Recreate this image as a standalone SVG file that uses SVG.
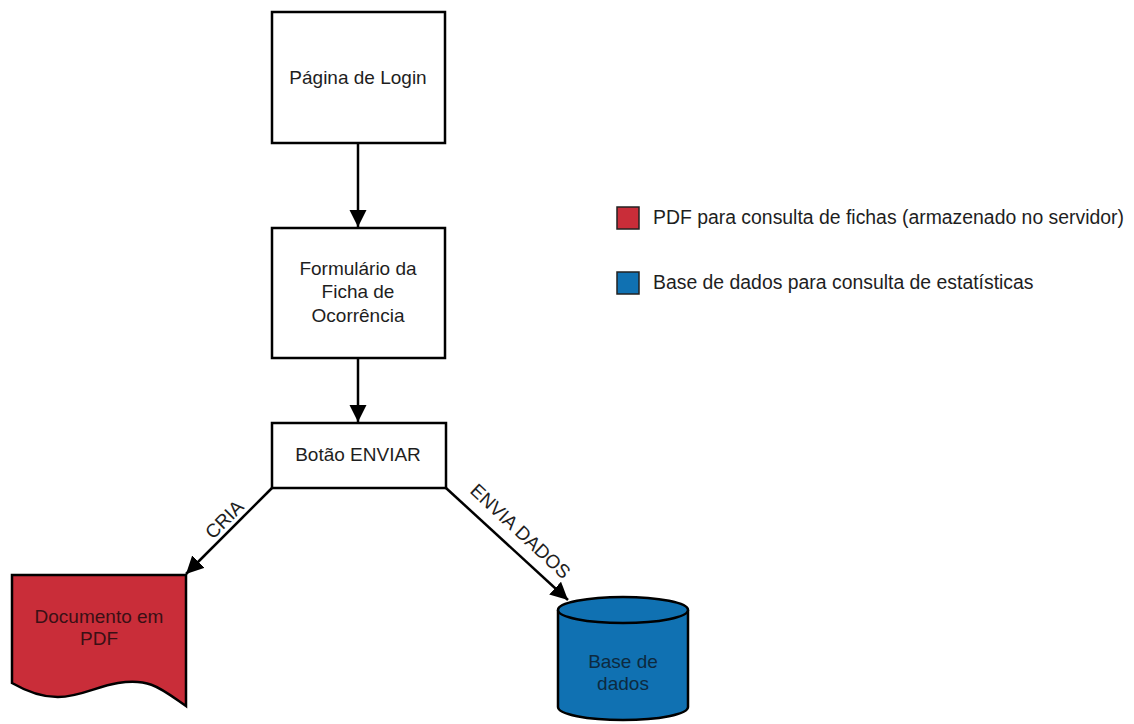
<svg xmlns="http://www.w3.org/2000/svg" width="1134" height="724" viewBox="0 0 1134 724">
<defs>
<style>
.box{fill:#fff;stroke:#000;stroke-width:2.5}
.t{font-family:"Liberation Sans",Arial,sans-serif;font-size:19px;fill:#1e1e1e;text-anchor:middle}
.lg{font-family:"Liberation Sans",Arial,sans-serif;font-size:19.4px;fill:#1e1e1e}
.edge{fill:none;stroke:#000;stroke-width:2.5}
</style>
<marker id="ah" viewBox="0 0 10 10" refX="10" refY="5" markerWidth="7" markerHeight="7" orient="auto" markerUnits="strokeWidth"><path d="M0,0 L10,5 L0,10 z" fill="#000"/></marker>
</defs>
<rect width="1134" height="724" fill="#fff"/>
<g id="connectors">
<line class="edge" x1="358" y1="143" x2="358" y2="227" marker-end="url(#ah)"/>
<line class="edge" x1="358" y1="358" x2="358" y2="422" marker-end="url(#ah)"/>
<line class="edge" x1="272" y1="488" x2="186" y2="574" marker-end="url(#ah)"/>
<line class="edge" x1="446" y1="488" x2="568" y2="600" marker-end="url(#ah)"/>
<text class="t" transform="translate(229,524) rotate(-45)">CRIA</text>
<text class="t" transform="translate(516,536) rotate(43)">ENVIA DADOS</text>
</g>
<g id="login">
<rect class="box" x="272" y="12" width="173" height="131"/>
<text class="t" x="358" y="84">Página de Login</text>
</g>
<g id="formulario">
<rect class="box" x="272" y="228" width="173" height="130"/>
<text class="t" x="358" y="275">Formulário da</text>
<text class="t" x="358" y="298">Ficha de</text>
<text class="t" x="358" y="322">Ocorrência</text>
</g>
<g id="botao">
<rect class="box" x="272" y="423" width="174" height="65"/>
<text class="t" x="358" y="461">Botão ENVIAR</text>
</g>
<g id="documento">
<path d="M12,575 L186,575 L186,706 C160,688 150,678 118,683 C85,688 62,712 12,683 Z" fill="#C92D39" stroke="#000" stroke-width="2.5"/>
<text class="t" x="99" y="623" style="fill:#3a1015">Documento em</text>
<text class="t" x="99" y="645" style="fill:#3a1015">PDF</text>
</g>
<g id="basedados">
<path d="M558,610 L558,707 A65,13 0 0 0 688,707 L688,610" fill="#1071B2" stroke="#000" stroke-width="2.5"/>
<ellipse cx="623" cy="610" rx="65" ry="13" fill="#1071B2" stroke="#000" stroke-width="2.5"/>
<text class="t" x="623" y="668" style="fill:#0d2a40">Base de</text>
<text class="t" x="623" y="690" style="fill:#0d2a40">dados</text>
</g>
<g id="legend">
<rect x="617" y="207" width="22" height="22" fill="#C92D39" stroke="#222" stroke-width="1.5"/>
<text class="lg" x="653" y="224">PDF para consulta de fichas (armazenado no servidor)</text>
<rect x="617" y="272" width="22" height="22" fill="#1071B2" stroke="#222" stroke-width="1.5"/>
<text class="lg" x="653" y="289">Base de dados para consulta de estatísticas</text>
</g>
</svg>
